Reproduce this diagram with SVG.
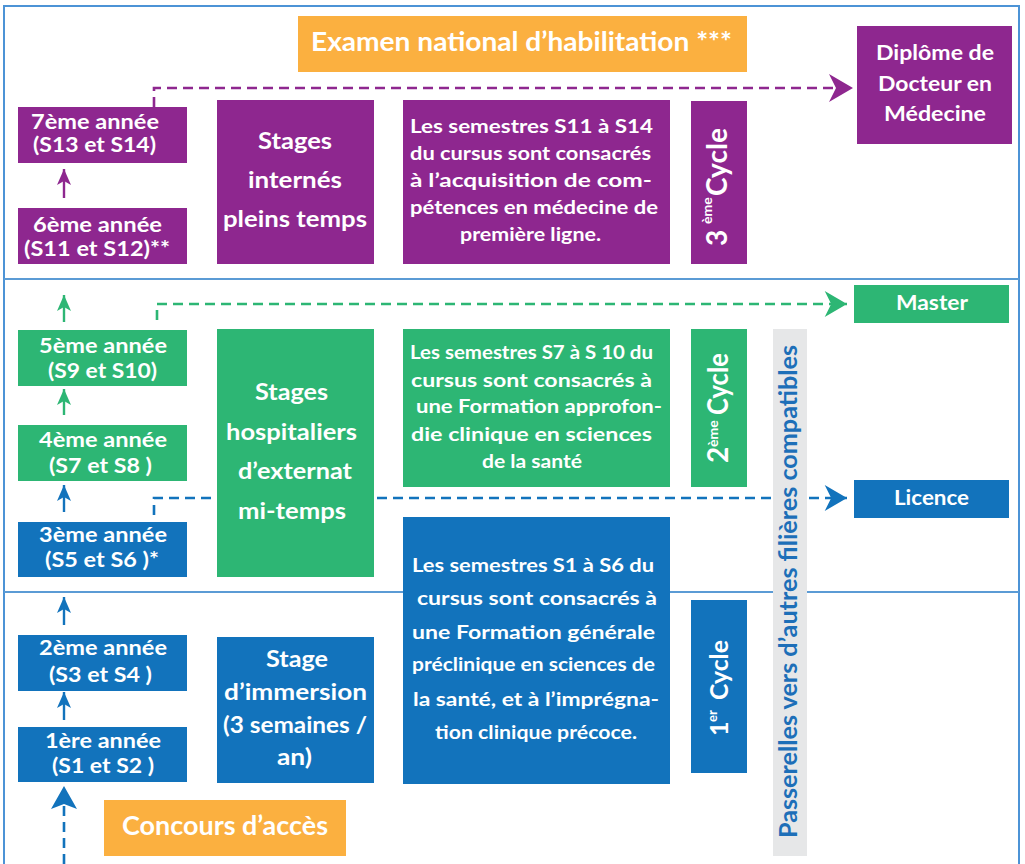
<svg xmlns="http://www.w3.org/2000/svg" width="1025" height="864" viewBox="0 0 1025 864">
<defs>
<style>
text{font-family:Lato,"Liberation Sans",sans-serif;font-weight:700;fill:#fff}
.pu{fill:#8E278F}.gr{fill:#2DB674}.bl{fill:#1273BC}.or{fill:#FBB040}
.frame{fill:none;stroke:#4C93D6;stroke-width:2}
.sep{stroke:#5B9BD5;stroke-width:2}
.yr{font-size:20px}
.st{font-size:23px}
.ds{font-size:19px}
.big{font-size:26px}
.cy{font-size:28px}
.dash{fill:none;stroke-width:2.6;stroke-dasharray:10 6}
.sol{fill:none;stroke-width:2.4}
</style>
<marker id="hdP" viewBox="0 0 24 28" refX="24" refY="14" markerWidth="24" markerHeight="28" markerUnits="userSpaceOnUse" orient="auto"><path d="M0,0 L24,14 L0,28 L7,14 Z" fill="#8E278F"/></marker>
<marker id="hdG" viewBox="0 0 24 28" refX="24" refY="14" markerWidth="24" markerHeight="26" markerUnits="userSpaceOnUse" orient="auto"><path d="M0,0 L24,14 L0,28 L7,14 Z" fill="#2DB674"/></marker>
<marker id="hdB" viewBox="0 0 24 28" refX="24" refY="14" markerWidth="24" markerHeight="26" markerUnits="userSpaceOnUse" orient="auto"><path d="M0,0 L24,14 L0,28 L7,14 Z" fill="#1273BC"/></marker>
<marker id="smP" viewBox="0 0 16 14" refX="16" refY="7" markerWidth="16" markerHeight="14" markerUnits="userSpaceOnUse" orient="auto"><path d="M0,0 L16,7 L0,14 L4,7 Z" fill="#8E278F"/></marker>
<marker id="smG" viewBox="0 0 16 14" refX="16" refY="7" markerWidth="16" markerHeight="14" markerUnits="userSpaceOnUse" orient="auto"><path d="M0,0 L16,7 L0,14 L4,7 Z" fill="#2DB674"/></marker>
<marker id="smB" viewBox="0 0 16 14" refX="16" refY="7" markerWidth="16" markerHeight="14" markerUnits="userSpaceOnUse" orient="auto"><path d="M0,0 L16,7 L0,14 L4,7 Z" fill="#1273BC"/></marker>
<marker id="bgB" viewBox="0 0 23 26" refX="23" refY="13" markerWidth="23" markerHeight="26" markerUnits="userSpaceOnUse" orient="auto"><path d="M0,0 L23,13 L0,26 L5,13 Z" fill="#1273BC"/></marker>
</defs>

<g id="frame">
<rect class="frame" x="4" y="6" width="1015" height="880"/>
<line class="sep" x1="4" y1="279" x2="1019" y2="279"/>
<line class="sep" x1="4" y1="592" x2="1019" y2="592"/>
</g>

<g id="connectors">
<path class="dash" stroke="#8E278F" d="M154,107 V88 H853" marker-end="url(#hdP)"/>
<path class="dash" stroke="#2DB674" d="M157,320 V304 H847" marker-end="url(#hdG)"/>
<path class="dash" stroke="#1273BC" d="M154,515 V498 H847" marker-end="url(#hdB)"/>
<path class="dash" stroke="#1273BC" stroke-width="3" d="M64,864 V786" marker-end="url(#bgB)"/>
<line class="sol" stroke="#8E278F" x1="64" y1="198" x2="64" y2="169" marker-end="url(#smP)"/>
<line class="sol" stroke="#2DB674" x1="64" y1="322" x2="64" y2="295" marker-end="url(#smG)"/>
<line class="sol" stroke="#2DB674" x1="64" y1="415" x2="64" y2="389" marker-end="url(#smG)"/>
<line class="sol" stroke="#1273BC" x1="64" y1="512" x2="64" y2="485" marker-end="url(#smB)"/>
<line class="sol" stroke="#1273BC" x1="64" y1="625" x2="64" y2="597" marker-end="url(#smB)"/>
<line class="sol" stroke="#1273BC" x1="64" y1="720" x2="64" y2="692" marker-end="url(#smB)"/>
</g>

<g id="examen"><rect class="or" x="298" y="16" width="449" height="56"/>
<text class="big" x="311" y="51" textLength="421" lengthAdjust="spacingAndGlyphs">Examen national d’habilitation ***</text></g>

<g id="diplome"><rect class="pu" x="857" y="26" width="155" height="118"/>
<text style="font-size:21px" x="876" y="60" textLength="118" lengthAdjust="spacingAndGlyphs">Diplôme de</text>
<text style="font-size:21px" x="878" y="91" textLength="114" lengthAdjust="spacingAndGlyphs">Docteur en</text>
<text style="font-size:21px" x="884" y="121" textLength="102" lengthAdjust="spacingAndGlyphs">Médecine</text></g>

<g id="annee7"><rect class="pu" x="18" y="107" width="169" height="56"/>
<text class="yr" x="31" y="129" textLength="128" lengthAdjust="spacingAndGlyphs">7ème année</text>
<text class="yr" x="33" y="152" textLength="123" lengthAdjust="spacingAndGlyphs">(S13 et S14)</text></g>

<g id="annee6"><rect class="pu" x="18" y="208" width="169" height="56"/>
<text class="yr" x="33" y="232" textLength="129" lengthAdjust="spacingAndGlyphs">6ème année</text>
<text class="yr" x="24" y="256" textLength="146" lengthAdjust="spacingAndGlyphs">(S11 et S12)**</text></g>

<g id="stages-internes"><rect class="pu" x="217" y="100" width="157" height="164"/>
<text class="st" x="258" y="149" textLength="74" lengthAdjust="spacingAndGlyphs">Stages</text>
<text class="st" x="248" y="188" textLength="94" lengthAdjust="spacingAndGlyphs">internés</text>
<text class="st" x="223" y="227" textLength="144" lengthAdjust="spacingAndGlyphs">pleins temps</text></g>

<g id="desc3"><rect class="pu" x="403" y="100" width="267" height="164"/>
<text class="ds" x="410" y="133" textLength="243" lengthAdjust="spacingAndGlyphs">Les  semestres  S11  à  S14</text>
<text class="ds" x="410" y="160" textLength="241" lengthAdjust="spacingAndGlyphs">du  cursus  sont  consacrés</text>
<text class="ds" x="410" y="187" textLength="242" lengthAdjust="spacingAndGlyphs">à  l’acquisition  de  com-</text>
<text class="ds" x="410" y="214" textLength="248" lengthAdjust="spacingAndGlyphs">pétences  en  médecine  de</text>
<text class="ds" x="460" y="241" textLength="141" lengthAdjust="spacingAndGlyphs">première ligne.</text></g>

<g id="cycle3"><rect class="pu" x="691" y="101" width="56" height="163"/>
<text transform="translate(727,247) rotate(-90)"><tspan class="cy" x="1" y="0">3</tspan><tspan style="font-size:14px" x="23" y="-15">ème</tspan><tspan class="cy" x="51" y="0" textLength="68" lengthAdjust="spacingAndGlyphs">Cycle</tspan></text></g>

<g id="master"><rect class="gr" x="854" y="285" width="155" height="38"/>
<text style="font-size:21px" x="896" y="310" textLength="72" lengthAdjust="spacingAndGlyphs">Master</text></g>

<g id="licence"><rect class="bl" x="854" y="480" width="155" height="38"/>
<text style="font-size:21px" x="894" y="505" textLength="75" lengthAdjust="spacingAndGlyphs">Licence</text></g>

<g id="annee5"><rect class="gr" x="18" y="330" width="169" height="56"/>
<text class="yr" x="39" y="353" textLength="128" lengthAdjust="spacingAndGlyphs">5ème année</text>
<text class="yr" x="48" y="378" textLength="109" lengthAdjust="spacingAndGlyphs">(S9 et S10)</text></g>

<g id="annee4"><rect class="gr" x="18" y="425" width="169" height="56"/>
<text class="yr" x="39" y="447" textLength="128" lengthAdjust="spacingAndGlyphs">4ème année</text>
<text class="yr" x="49" y="473" textLength="103" lengthAdjust="spacingAndGlyphs">(S7 et S8 )</text></g>

<g id="annee3"><rect class="bl" x="18" y="522" width="169" height="55"/>
<text class="yr" x="39" y="542" textLength="128" lengthAdjust="spacingAndGlyphs">3ème année</text>
<text class="yr" x="45" y="567" textLength="114" lengthAdjust="spacingAndGlyphs">(S5 et S6 )*</text></g>

<g id="stages-hospitaliers"><rect class="gr" x="217" y="329" width="157" height="248"/>
<text class="st" x="255" y="400" textLength="73" lengthAdjust="spacingAndGlyphs">Stages</text>
<text class="st" x="226" y="440" textLength="131" lengthAdjust="spacingAndGlyphs">hospitaliers</text>
<text class="st" x="238" y="479" textLength="114" lengthAdjust="spacingAndGlyphs">d’externat</text>
<text class="st" x="238" y="519" textLength="108" lengthAdjust="spacingAndGlyphs">mi-temps</text></g>

<g id="desc2"><rect class="gr" x="403" y="329" width="267" height="158"/>
<text class="ds" x="410" y="359" textLength="243" lengthAdjust="spacingAndGlyphs">Les semestres S7 à S 10 du</text>
<text class="ds" x="411" y="387" textLength="241" lengthAdjust="spacingAndGlyphs">cursus  sont  consacrés  à</text>
<text class="ds" x="416" y="413" textLength="246" lengthAdjust="spacingAndGlyphs">une  Formation  approfon-</text>
<text class="ds" x="411" y="441" textLength="241" lengthAdjust="spacingAndGlyphs">die  clinique  en  sciences</text>
<text class="ds" x="482" y="468" textLength="100" lengthAdjust="spacingAndGlyphs">de la santé</text></g>

<g id="cycle2"><rect class="gr" x="691" y="329" width="56" height="158"/>
<text transform="translate(728,463) rotate(-90)"><tspan class="cy" x="0" y="0">2</tspan><tspan style="font-size:14px" x="16" y="-10">ème</tspan><tspan class="cy" x="48" y="0" textLength="62" lengthAdjust="spacingAndGlyphs">Cycle</tspan></text></g>

<g id="annee2"><rect class="bl" x="18" y="635" width="169" height="56"/>
<text class="yr" x="39" y="655" textLength="128" lengthAdjust="spacingAndGlyphs">2ème année</text>
<text class="yr" x="49" y="682" textLength="103" lengthAdjust="spacingAndGlyphs">(S3 et S4 )</text></g>

<g id="annee1"><rect class="bl" x="18" y="727" width="169" height="55"/>
<text class="yr" x="45" y="748" textLength="116" lengthAdjust="spacingAndGlyphs">1ère année</text>
<text class="yr" x="52" y="773" textLength="102" lengthAdjust="spacingAndGlyphs">(S1 et S2 )</text></g>

<g id="stage-immersion"><rect class="bl" x="217" y="637" width="157" height="146"/>
<text class="st" x="266" y="667" textLength="62" lengthAdjust="spacingAndGlyphs">Stage</text>
<text class="st" x="224" y="700" textLength="143" lengthAdjust="spacingAndGlyphs">d’immersion</text>
<text class="st" x="223" y="733" textLength="144" lengthAdjust="spacingAndGlyphs">(3 semaines /</text>
<text class="st" x="277" y="765" textLength="35" lengthAdjust="spacingAndGlyphs">an)</text></g>

<g id="desc1"><rect class="bl" x="403" y="517" width="267" height="267"/>
<text class="ds" x="412" y="572" textLength="242" lengthAdjust="spacingAndGlyphs">Les  semestres  S1  à  S6  du</text>
<text class="ds" x="417" y="605" textLength="240" lengthAdjust="spacingAndGlyphs">cursus  sont  consacrés  à</text>
<text class="ds" x="412" y="639" textLength="243" lengthAdjust="spacingAndGlyphs">une   Formation  générale</text>
<text class="ds" x="412" y="671" textLength="243" lengthAdjust="spacingAndGlyphs">préclinique en sciences de</text>
<text class="ds" x="413" y="706" textLength="246" lengthAdjust="spacingAndGlyphs">la  santé,  et  à  l’imprégna-</text>
<text class="ds" x="435" y="739" textLength="202" lengthAdjust="spacingAndGlyphs">tion clinique précoce.</text></g>

<g id="cycle1"><rect class="bl" x="691" y="600" width="56" height="173"/>
<text transform="translate(728,736) rotate(-90)"><tspan style="font-size:25px" x="0" y="0">1</tspan><tspan style="font-size:13px" x="14" y="-11">er</tspan><tspan style="font-size:25px" x="36" y="0" textLength="60" lengthAdjust="spacingAndGlyphs">Cycle</tspan></text></g>

<g id="concours"><rect class="or" x="104" y="800" width="242" height="56"/>
<text class="big" x="122" y="835" textLength="206" lengthAdjust="spacingAndGlyphs">Concours d’accès</text></g>

<g id="passerelles"><rect x="773" y="329" width="34" height="527" fill="#E6E7E8"/>
<text transform="translate(797,838) rotate(-90)" style="font-size:24px;fill:#1D6FB8" x="0" y="0" textLength="493" lengthAdjust="spacingAndGlyphs">Passerelles vers d’autres filières compatibles</text></g>
</svg>
